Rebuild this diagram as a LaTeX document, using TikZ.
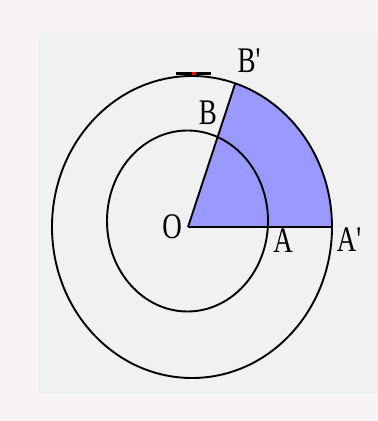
\documentclass[tikz,border=0pt]{standalone}
\usepackage{fontspec}
\setmainfont{Liberation Serif}
\usetikzlibrary{calc}
\begin{document}
\begin{tikzpicture}[x=1pt,y=1pt,
  lbl/.style={inner sep=0pt, xscale=0.75, font=\fontsize{36}{36}\selectfont},
  ring/.style={draw=black, line width=1.9pt},
  seg/.style={draw=black, line width=1.9pt}]
\definecolor{outerbg}{HTML}{F7F3F7}
\definecolor{innerbg}{HTML}{F1F1F1}
\definecolor{sectorfill}{HTML}{9999FF}
\useasboundingbox (0,0) rectangle (378,421);
\fill[outerbg] (0,0) rectangle (378,421);
\fill[innerbg] (38,27) rectangle (378,388);
% points
\coordinate (O) at (188,194);
\coordinate (C) at (192,194);
\coordinate (Ap) at (332,194);
\coordinate (Bp) at ($(C)+(72:140 and 151)$);
\coordinate (Ci) at (187.5,200);
% sector
\fill[sectorfill] (O) -- (Ap) arc[start angle=0, end angle=72, x radius=140, y radius=151] -- cycle;
% circles
\draw[ring] (C) ellipse[x radius=140, y radius=151];
\draw[ring] (Ci) ellipse[x radius=80.5, y radius=90.5];
% radii
\draw[seg] (O) -- (Ap);
\draw[seg] (O) -- (Bp);
% top mark
\coordinate (t1) at (176,347.5);
\coordinate (t2) at (211,347.5);
\coordinate (t3) at (191.5,347.5);
\coordinate (t4) at (196,347.5);
\draw[line width=3.2pt] (t1) -- (t2);
\draw[red, line width=3.2pt] (t3) -- (t4);
% labels
\node[lbl] (lO) at (172,194) {O};
\node[lbl] (lA) at (283,180) {A};
\node[lbl] (lAp) at (349,181) {A\textquotesingle};
\node[lbl] (lB) at (208,308) {B};
\node[lbl] (lBp) at (249,360) {B\textquotesingle};
\end{tikzpicture}
\end{document}
